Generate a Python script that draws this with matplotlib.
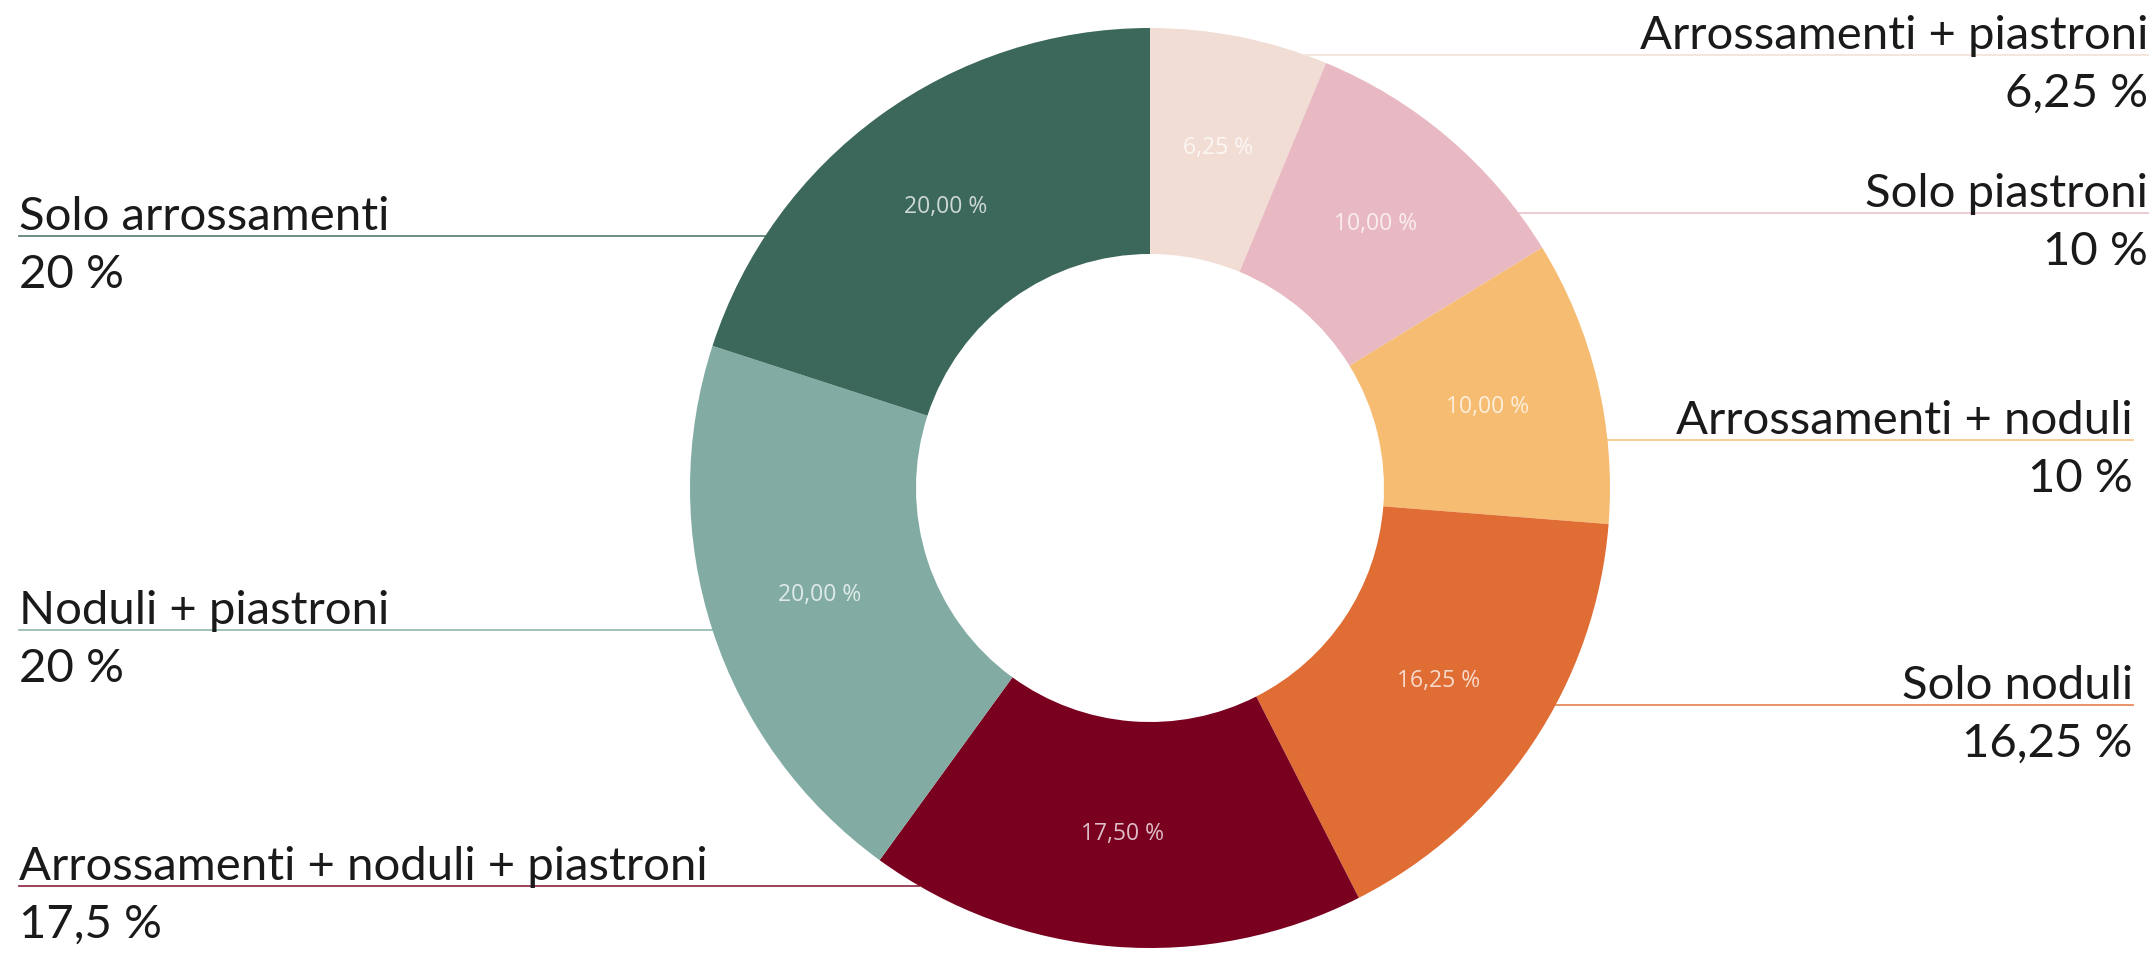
import matplotlib.pyplot as plt
import numpy as np

# data, clockwise from the top
categorie = ['Arrossamenti + piastroni', 'Solo piastroni', 'Arrossamenti + noduli',
             'Solo noduli', 'Arrossamenti + noduli + piastroni', 'Noduli + piastroni',
             'Solo arrossamenti']
valori = [6.25, 10, 10, 16.25, 17.5, 20, 20]
etichette_valore = ['6,25 %', '10 %', '10 %', '16,25 %', '17,5 %', '20 %', '20 %']
colori = ['#F1DDD4', '#E8B9C2', '#F6BC72', '#E06D34', '#7A0020', '#82ACA3', '#3C685B']

W, H = 2155, 959
fig = plt.figure(figsize=(W / 100, H / 100), dpi=100)
ax = fig.add_axes([0, 0, 1, 1])

cx, cy = 1150, H - 488
r_out, r_in = 460, 234

wedges, _, autotexts = ax.pie(
    valori, colors=colori, startangle=90, counterclock=False,
    center=(cx, cy), radius=r_out, frame=True,
    wedgeprops=dict(width=r_out - r_in, linewidth=0),
    autopct=lambda p: f'{p:.2f} %'.replace('.', ','),
    pctdistance=(r_out + r_in) / 2 / r_out,
    textprops=dict(color='white', alpha=0.75, fontsize=16.5, family='Open Sans'))
ax.set_xlim(0, W)
ax.set_ylim(0, H)
ax.axis('off')

# posizione delle linee (pixel dall'alto) e lato delle etichette esterne
linee_y = [55, 213, 440, 705, 886, 630, 236]
lati = ['r', 'r', 'r', 'r', 'l', 'l', 'l']
x_dx = [2148, 2148, 2133, 2133]
x_sx = 19

font_lab = dict(family='Lato', weight=400, fontsize=34, color='#1a1a1a')
j = 0
for i, nome in enumerate(categorie):
    ly = H - linee_y[i]
    dy = abs(ly - cy)
    dx = np.sqrt(max(r_out ** 2 - dy ** 2, 0))
    if lati[i] == 'r':
        xa = x_dx[j]
        j += 1
        ax.plot([cx + dx, xa], [ly, ly], color=colori[i], lw=1.3, alpha=0.8)
        ha = 'right'
    else:
        xa = x_sx
        ax.plot([xa, cx - dx], [ly, ly], color=colori[i], lw=1.3, alpha=0.8)
        ha = 'left'
    ax.text(xa, ly + 6, nome, ha=ha, va='baseline', **font_lab)
    ax.text(xa, ly - 18, etichette_valore[i], ha=ha, va='top', **font_lab)

fig.savefig('out.png', dpi=100)
